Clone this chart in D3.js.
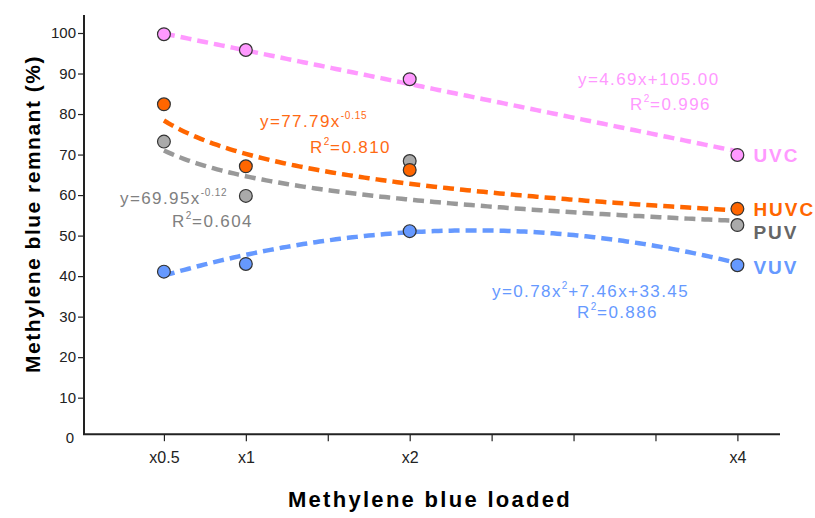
<!DOCTYPE html>
<html>
<head>
<meta charset="utf-8">
<script src="https://cdn.jsdelivr.net/npm/d3@7"></script>
<style>
  body { margin: 0; background: #fff; }
  svg { font-family: Arial, "Liberation Sans", sans-serif; }
  .axis path, .axis line { stroke: #222; }
  .axis text { fill: #222; }
</style>
</head>
<body>
<div id="chart"></div>
<script>
// loads and their position on the (linear) x scale
var categories = ["x0.5", "x1", "x2", "x4"];
var loadValues = [1, 2, 4, 8];
var xTicks = [1, 2, 3, 4, 5, 6, 7, 8];
var yTicks = [10, 20, 30, 40, 50, 60, 70, 80, 90, 100];

// methylene blue remnant (%)
var uvcValues = [99.7, 95.8, 88.6, 69.9];
var huvcValues = [82.4, 67.1, 66.2, 56.6];
var puvValues = [73.2, 59.8, 68.4, 52.6];
var vuvValues = [41.1, 43.0, 51.1, 42.7];

// trend line coefficients as drawn
var uvcFit = [104.0, -4.15];      // a + b x
var huvcFit = [78.4, -0.16];      // a x^b
var puvFit = [71.0, -0.135];      // a x^b
var vuvFit = [33.45, 7.46, -0.78]; // a + b x + c x^2

var width = 815, height = 518;

var svg = d3.select("#chart").append("svg")
    .attr("width", width)
    .attr("height", height);

var x = d3.scaleLinear().domain([0, 8.52]).range([82, 780]);
var y = d3.scaleLinear().domain([0, 100]).range([438.2, 33]);

var series = [
    { name: "PUV", values: puvValues, fill: "#aaaaaa", line: "#999999", text: "#666666",
      f: function(v) { return puvFit[0] * Math.pow(v, puvFit[1]); } },
    { name: "HUVC", values: huvcValues, fill: "#ff6600", line: "#ff6600", text: "#ff6600",
      f: function(v) { return huvcFit[0] * Math.pow(v, huvcFit[1]); } },
    { name: "UVC", values: uvcValues, fill: "#ff99ff", line: "#ff99ff", text: "#ff99ff",
      f: function(v) { return uvcFit[0] + uvcFit[1] * v; } },
    { name: "VUV", values: vuvValues, fill: "#6699ff", line: "#6699ff", text: "#6699ff",
      f: function(v) { return vuvFit[0] + vuvFit[1] * v + vuvFit[2] * v * v; } }
];

// axes
var yAxis = svg.append("g")
    .attr("class", "axis")
    .attr("transform", "translate(" + (x(0) + 2) + ",0)")
    .call(d3.axisLeft(y).tickValues(yTicks).tickSize(6).tickPadding(2).tickSizeOuter(0));
yAxis.select(".domain").attr("d", "M0," + (y(0) - 4) + "V15").attr("stroke-width", 2);
yAxis.selectAll(".tick line").attr("stroke-width", 1.2);
yAxis.selectAll(".tick text").style("font-size", "15px");
yAxis.append("text")
    .attr("x", -14)
    .attr("y", y(0))
    .attr("dy", "0.35em")
    .attr("text-anchor", "middle")
    .style("font-size", "15px")
    .attr("fill", "#222")
    .text("0");

var xAxis = svg.append("g")
    .attr("class", "axis")
    .attr("transform", "translate(0," + (y(0) - 4) + ")")
    .call(d3.axisBottom(x).tickValues(xTicks).tickSize(7).tickPadding(10).tickSizeOuter(0)
        .tickFormat(function(d) {
            var i = loadValues.indexOf(d);
            return i >= 0 ? categories[i] : "";
        }));
xAxis.select(".domain").attr("d", "M" + (x(0) + 1) + ",0H" + x(8.52)).attr("stroke-width", 2);
xAxis.selectAll(".tick line").attr("stroke-width", 1.2);
xAxis.selectAll(".tick text").style("font-size", "16px");

// axis titles
svg.append("text")
    .attr("x", 430)
    .attr("y", 507)
    .attr("text-anchor", "middle")
    .style("font-size", "22px")
    .style("font-weight", "bold")
    .style("letter-spacing", "2.3px")
    .text("Methylene blue loaded");

svg.append("text")
    .attr("transform", "translate(40,214) rotate(-90)")
    .attr("text-anchor", "middle")
    .style("font-size", "21px")
    .style("font-weight", "bold")
    .style("letter-spacing", "1.5px")
    .text("Methylene blue remnant (%)");

// trend lines
var curve = d3.range(1, 8.001, 0.05);
var lineGen = d3.line()
    .x(function(d) { return x(d[0]); })
    .y(function(d) { return y(d[1]); });

series.forEach(function(s) {
    svg.append("path")
        .attr("d", lineGen(curve.map(function(v) { return [v, s.f(v)]; })))
        .attr("fill", "none")
        .attr("stroke", s.line)
        .attr("stroke-width", 4.5)
        .attr("stroke-dasharray", "11,6");
});

// points
series.forEach(function(s) {
    svg.selectAll(null)
        .data(s.values)
        .enter().append("circle")
        .attr("cx", function(d, i) { return x(loadValues[i]); })
        .attr("cy", function(d) { return y(d); })
        .attr("r", 6.4)
        .attr("fill", s.fill)
        .attr("stroke", "#333")
        .attr("stroke-width", 1.2);
});

// series labels next to the last point
var labelOffsets = { UVC: 7, HUVC: 7, PUV: 14, VUV: 9 };
series.forEach(function(s) {
    var last = s.values[s.values.length - 1];
    svg.append("text")
        .attr("x", x(8) + 16)
        .attr("y", y(last) + labelOffsets[s.name])
        .attr("fill", s.text)
        .style("font-size", "19px")
        .style("font-weight", "bold")
        .style("letter-spacing", "2px")
        .text(s.name);
});

// equations
var equations = [
    { color: "#ff99ff", x: 578, y: 85, parts: [["y=4.69x+105.00", false]] },
    { color: "#ff99ff", x: 630, y: 110, parts: [["R", false], ["2", true], ["=0.996", false]] },
    { color: "#ff6a13", x: 260, y: 127, parts: [["y=77.79x", false], ["-0.15", true]] },
    { color: "#ff6a13", x: 310, y: 153, parts: [["R", false], ["2", true], ["=0.810", false]] },
    { color: "#808080", x: 120, y: 204, parts: [["y=69.95x", false], ["-0.12", true]] },
    { color: "#808080", x: 172, y: 227, parts: [["R", false], ["2", true], ["=0.604", false]] },
    { color: "#6699ff", x: 492, y: 297, parts: [["y=0.78x", false], ["2", true], ["+7.46x+33.45", false]] },
    { color: "#6699ff", x: 577, y: 318, parts: [["R", false], ["2", true], ["=0.886", false]] }
];

equations.forEach(function(e) {
    var t = svg.append("text")
        .attr("x", e.x)
        .attr("y", e.y)
        .attr("fill", e.color)
        .style("font-size", "17px")
        .style("letter-spacing", "1.4px");
    e.parts.forEach(function(p) {
        var sp = t.append("tspan").text(p[0]);
        if (p[1]) {
            sp.style("font-size", "10px").attr("dy", -8).style("letter-spacing", "0.8px");
        } else if (t.selectAll("tspan").size() > 1) {
            sp.attr("dy", 8);
        }
    });
});
</script>
</body>
</html>
